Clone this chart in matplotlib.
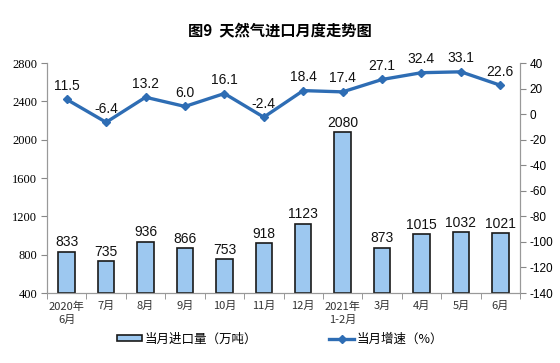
import matplotlib
matplotlib.use("Agg")
import matplotlib.pyplot as plt
import numpy as np
from matplotlib.lines import Line2D
from matplotlib.patches import Patch

plt.rcParams['font.family'] = ['Noto Sans CJK SC', 'DejaVu Sans']

categories = ["2020年\n6月", "7月", "8月", "9月", "10月", "11月", "12月", "2021年\n1-2月", "3月", "4月", "5月", "6月"]
imports = [833, 735, 936, 866, 753, 918, 1123, 2080, 873, 1015, 1032, 1021]
growth = [11.5, -6.4, 13.2, 6.0, 16.1, -2.4, 18.4, 17.4, 27.1, 32.4, 33.1, 22.6]
growth_labels = ["11.5", "-6.4", "13.2", "6.0", "16.1", "-2.4", "18.4", "17.4", "27.1", "32.4", "33.1", "22.6"]
left_ticks = [400, 800, 1200, 1600, 2000, 2400, 2800]
right_ticks = [-140, -120, -100, -80, -60, -40, -20, 0, 20, 40]

bar_color = "#9DC8F0"
line_color = "#2E6DB4"

fig = plt.figure(figsize=(5.6, 3.63), dpi=100)
ax = fig.add_axes([47/560, 1-293/363, (520-47)/560, (293-63)/363])
ax2 = ax.twinx()

x = np.arange(len(categories))
ax.bar(x, [v - 400 for v in imports], bottom=400, width=0.42, color=bar_color,
       edgecolor="#1a1a1a", linewidth=1.2, zorder=2)
for xi, v in zip(x, imports):
    ax.text(xi, v + 25, str(v), ha="center", va="bottom", fontsize=10,
            family="Liberation Sans", color="#111111")

ax.set_ylim(400, 2800)
ax.set_yticks(left_ticks)
ax.set_yticklabels([str(t) for t in left_ticks], family="Liberation Serif", fontsize=9)
ax.set_xlim(-0.5, len(categories) - 0.5)
ax.set_xticks(x)
ax.set_xticklabels(categories, fontsize=8, color="#333333", linespacing=1.4)
ax.set_xticks(np.arange(-0.5, len(categories), 1), minor=True)
ax.tick_params(axis="x", which="major", length=0, pad=6)
ax.tick_params(axis="x", which="minor", length=4, color="#888888")
ax.tick_params(axis="y", length=4, color="#888888", pad=3)

ax2.plot(x, growth, color=line_color, linewidth=2.4, marker="D", markersize=4.5, zorder=3)
for xi, v, lab in zip(x, growth, growth_labels):
    ax2.text(xi, v + 5, lab, ha="center", va="bottom", fontsize=10,
             family="Liberation Sans", color="#111111")
ax2.set_ylim(-140, 40)
ax2.set_yticks(right_ticks)
ax2.set_yticklabels([str(t) for t in right_ticks], family="Liberation Sans", fontsize=8.5)
ax2.tick_params(axis="y", length=4, color="#888888", pad=3)

for a in (ax, ax2):
    a.spines["top"].set_visible(False)
    for s in ("left", "right", "bottom"):
        a.spines[s].set_color("#999999")
        a.spines[s].set_linewidth(0.8)

fig.text(0.5, 1 - 30/363, "图9  天然气进口月度走势图", ha="center", va="center",
         fontsize=11, fontweight="bold")

handles = [Patch(facecolor=bar_color, edgecolor="#1a1a1a", linewidth=1.2),
           Line2D([0], [0], color=line_color, linewidth=2.4, marker="D", markersize=4)]
fig.legend(handles, ["当月进口量（万吨）", "当月增速（%）"], loc="center",
           bbox_to_anchor=(0.5, 1 - 339/363), ncol=2, frameon=False, fontsize=9,
           columnspacing=5.8, handlelength=2.0, handleheight=0.45, handletextpad=0.2)

fig.savefig("out.png", dpi=100)
